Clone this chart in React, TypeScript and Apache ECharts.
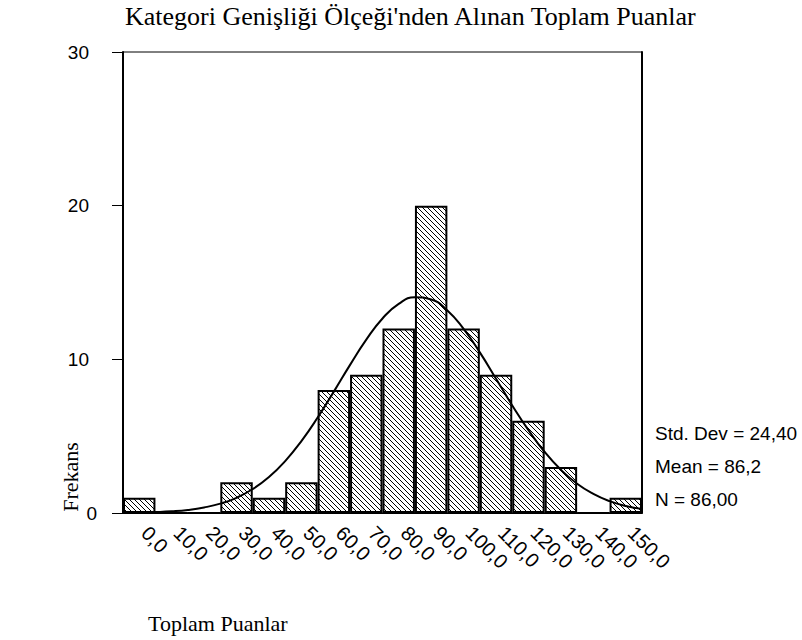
import React, { useEffect, useRef } from 'react';
import * as echarts from 'echarts';

const binLabels = ['0,0', '10,0', '20,0', '30,0', '40,0', '50,0', '60,0', '70,0', '80,0', '90,0', '100,0', '110,0', '120,0', '130,0', '140,0', '150,0'];
const frequencies = [1, 0, 0, 2, 1, 2, 8, 9, 12, 20, 12, 9, 6, 3, 0, 1];
const curveX = [0, 5, 10, 15, 20, 25, 30, 35, 40, 45, 50, 55, 60, 65, 70, 75, 80, 85, 90, 95, 100, 105, 110, 115, 120, 125, 130, 135, 140, 145, 150, 155];
const curveY = [0.03, 0.06, 0.11, 0.2, 0.36, 0.61, 0.99, 1.56, 2.34, 3.38, 4.68, 6.21, 7.9, 9.64, 11.28, 12.66, 13.61, 14.04, 13.89, 13.18, 11.98, 10.45, 8.74, 7.0, 5.39, 3.97, 2.81, 1.9, 1.24, 0.77, 0.46, 0.26];
const titleText = "Kategori Genişliği Ölçeği'nden Alınan Toplam Puanlar";
const yName = 'Frekans';
const xName = 'Toplam Puanlar';
const statLines = ['Std. Dev = 24,40', 'Mean = 86,2', 'N = 86,00'];

const SANS = '"Liberation Sans", Arial, sans-serif';
const SERIF = '"Liberation Serif", "Times New Roman", serif';

function hatchUrl(): string {
  const c = document.createElement('canvas');
  c.width = 5;
  c.height = 5;
  const ctx = c.getContext('2d')!;
  ctx.fillStyle = '#ffffff';
  ctx.fillRect(0, 0, 5, 5);
  ctx.fillStyle = '#000000';
  for (let i = 0; i < 5; i++) ctx.fillRect(i, i, 1, 1);
  return c.toDataURL();
}

export default function App() {
  const ref = useRef<HTMLDivElement>(null);
  useEffect(() => {
    if (!ref.current) return;
    const chart = echarts.init(ref.current, null, { renderer: 'svg' });
    const pattern: any = { image: hatchUrl(), repeat: 'repeat', imageWidth: 5, imageHeight: 5 };
    const statYs = [433, 466, 499];
    chart.setOption({
      animation: false,
      backgroundColor: '#ffffff',
      grid: { left: 123, right: 160, top: 52, bottom: 127, show: true, borderColor: '#000', borderWidth: 1, backgroundColor: 'transparent' },
      xAxis: [
        {
          type: 'category',
          data: binLabels,
          boundaryGap: true,
          axisLine: { onZero: false, lineStyle: { color: '#000', width: 1 } },
          axisTick: { alignWithLabel: true, length: 6, lineStyle: { color: '#000', width: 2 }, interval: 0 },
          axisLabel: { interval: 0, rotate: -45, color: '#000', fontSize: 20, fontFamily: SANS, margin: 11, padding: [0, 0, 0, 8] },
          splitLine: { show: false },
        },
        { type: 'value', min: -5, max: 155, show: false },
      ],
      yAxis: [
        {
          type: 'value',
          min: 0,
          max: 30,
          interval: 10,
          axisLine: { show: true, onZero: false, lineStyle: { color: '#000', width: 2 } },
          axisTick: { show: true, length: 11, lineStyle: { color: '#000', width: 1 } },
          axisLabel: {
            color: '#000',
            fontSize: 19,
            fontFamily: SANS,
            margin: 26,
            formatter: (v: number) => (v === 0 ? '0' : `${v}{s|}`),
            rich: { s: { width: 8 } },
          },
          splitLine: { show: false },
        },
        {
          type: 'value',
          position: 'right',
          min: 0,
          max: 30,
          interval: 10,
          axisLine: { show: true, onZero: false, lineStyle: { color: '#000', width: 2 } },
          axisTick: { show: false },
          axisLabel: { show: false },
          splitLine: { show: false },
        },
      ],
      series: [
        {
          type: 'bar',
          data: frequencies,
          xAxisIndex: 0,
          yAxisIndex: 0,
          barCategoryGap: '0%',
          itemStyle: { color: pattern, borderColor: '#000', borderWidth: 2 },
          z: 2,
        },
        {
          type: 'line',
          data: curveX.map((x, i) => [x, curveY[i]]),
          xAxisIndex: 1,
          yAxisIndex: 0,
          smooth: true,
          symbol: 'none',
          lineStyle: { color: '#000', width: 2 },
          z: 3,
        },
      ],
      graphic: [
        {
          type: 'text',
          x: 125,
          y: 16,
          style: { text: titleText, fontSize: 26, fontFamily: SERIF, fill: '#000', align: 'left', verticalAlign: 'middle', textAlign: 'left', textVerticalAlign: 'middle' },
        },
        {
          type: 'text',
          x: 70,
          y: 477,
          rotation: Math.PI / 2,
          style: { text: yName, fontSize: 22, fontFamily: SERIF, fill: '#000', align: 'center', verticalAlign: 'middle', textAlign: 'center', textVerticalAlign: 'middle' },
        },
        {
          type: 'text',
          x: 148,
          y: 623,
          style: { text: xName, fontSize: 22, fontFamily: SERIF, fill: '#000', align: 'left', verticalAlign: 'middle', textAlign: 'left', textVerticalAlign: 'middle' },
        },
        ...statLines.map((t, i) => ({
          type: 'text',
          x: 655,
          y: statYs[i],
          style: { text: t, fontSize: 19, fontFamily: SANS, fill: '#000', align: 'left', verticalAlign: 'middle', textAlign: 'left', textVerticalAlign: 'middle' },
        })),
      ],
    });
    return () => chart.dispose();
  }, []);
  return <div ref={ref} style={{ position: 'fixed', left: 0, top: 0, width: 802, height: 640 }} />;
}
